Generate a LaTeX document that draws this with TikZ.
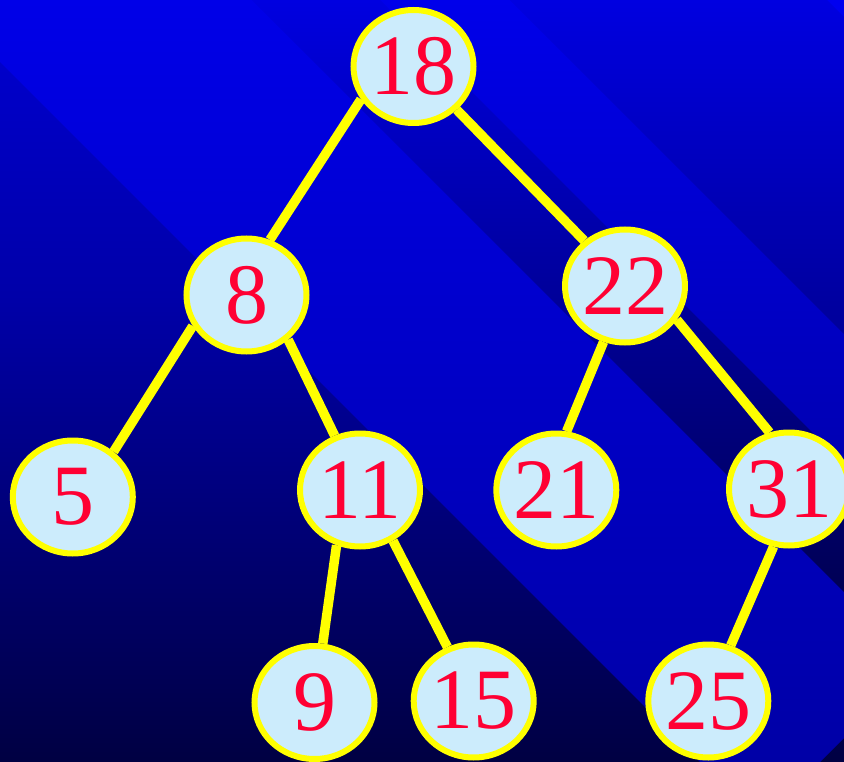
\documentclass[tikz,border=0pt]{standalone}
\usepackage{fontspec}
\setmainfont{Liberation Serif}
\usetikzlibrary{shapes.geometric}
\definecolor{nodefill}{RGB}{204,236,252}
\definecolor{numred}{RGB}{255,0,51}
\definecolor{edgeyellow}{RGB}{255,255,0}
\definecolor{baseA}{RGB}{0,0,212}
\definecolor{baseB}{RGB}{0,0,168}
\definecolor{baseC}{RGB}{0,0,64}
\definecolor{acTop}{RGB}{0,0,232}
\definecolor{acBot}{RGB}{0,0,166}
\definecolor{ceTop}{RGB}{0,0,224}
\definecolor{ceBot}{RGB}{0,0,80}
\definecolor{edTop}{RGB}{0,0,234}
\definecolor{edBot}{RGB}{0,0,176}
\definecolor{dfTop}{RGB}{0,0,224}
\definecolor{dfBot}{RGB}{0,0,150}
\definecolor{cornerBlue}{RGB}{0,0,240}
\begin{document}
\begin{tikzpicture}[x=1pt,y=-1pt,
  treenode/.style={ellipse, draw=edgeyellow, line width=6pt, fill=nodefill,
    minimum width=120pt, minimum height=113pt, inner sep=0pt, text=numred,
    font=\fontsize{86}{86}\selectfont},
  branch/.style={draw=edgeyellow, line width=9.5pt}]
\useasboundingbox (0,0) rectangle (844,762);
\begin{scope}
\clip (0,0) rectangle (844,762);
% background
\shade[top color=baseA, bottom color=baseB] (-10,-10) rectangle (860,301);
\shade[top color=baseB, bottom color=baseC] (-10,300) rectangle (860,772);
\shade[top color=acTop, bottom color=acBot] (-62,0) -- (252,0) -- (917,665) -- (820,762) -- (700,762) -- cycle;
\shade[top color=ceTop, bottom color=ceBot] (252,0) -- (380,0) -- (988,608) -- (860,608) -- cycle;
\shade[top color=edTop, bottom color=edBot] (380,0) -- (510,0) -- (990,480) -- (860,480) -- cycle;
\shade[top color=dfTop, bottom color=dfBot] (510,0) -- (827,0) -- (1177,350) -- (860,350) -- cycle;
\fill[cornerBlue] (827,0) -- (900,0) -- (900,73) -- cycle;
% nodes
\node[treenode] (n18) at (413.5,66.5) {\raisebox{-2pt}{\makebox[0pt]{18}}};
\node[treenode] (n8)  at (246.5,295)  {\raisebox{-2pt}{\makebox[0pt]{8}}};
\node[treenode] (n22) at (625,286)    {\raisebox{-2pt}{\makebox[0pt]{22}}};
\node[treenode] (n5)  at (72.8,497)   {\raisebox{-2pt}{\makebox[0pt]{5}}};
\node[treenode] (n11) at (360,490)    {\raisebox{-2pt}{\makebox[0pt]{11}}};
\node[treenode] (n21) at (556.3,490)  {\raisebox{-2pt}{\makebox[0pt]{21}}};
\node[treenode] (n31) at (789,489)    {\raisebox{-2pt}{\makebox[0pt]{31}}};
\node[treenode] (n9)  at (314.5,702.5){\raisebox{-2pt}{\makebox[0pt]{9}}};
\node[treenode] (n15) at (473.7,701)  {\raisebox{-2pt}{\makebox[0pt]{15}}};
\node[treenode] (n25) at (708.3,701)  {\raisebox{-2pt}{\makebox[0pt]{25}}};
% edges
\draw[branch] (n18.212) -- (n8.67);
\draw[branch] (n18.315) -- (n22.132);
\draw[branch] (n8.210) -- (n5.48);
\draw[branch] (n8.313) -- (n11.115);
\draw[branch] (n11.247) -- (n9.82);
\draw[branch] (n11.303) -- (n15.116);
\draw[branch] (n22.249) -- (n21.80);
\draw[branch] (n22.327) -- (n31.109);
\draw[branch] (n31.255) -- (n25.68);
\end{scope}
\end{tikzpicture}
\end{document}
